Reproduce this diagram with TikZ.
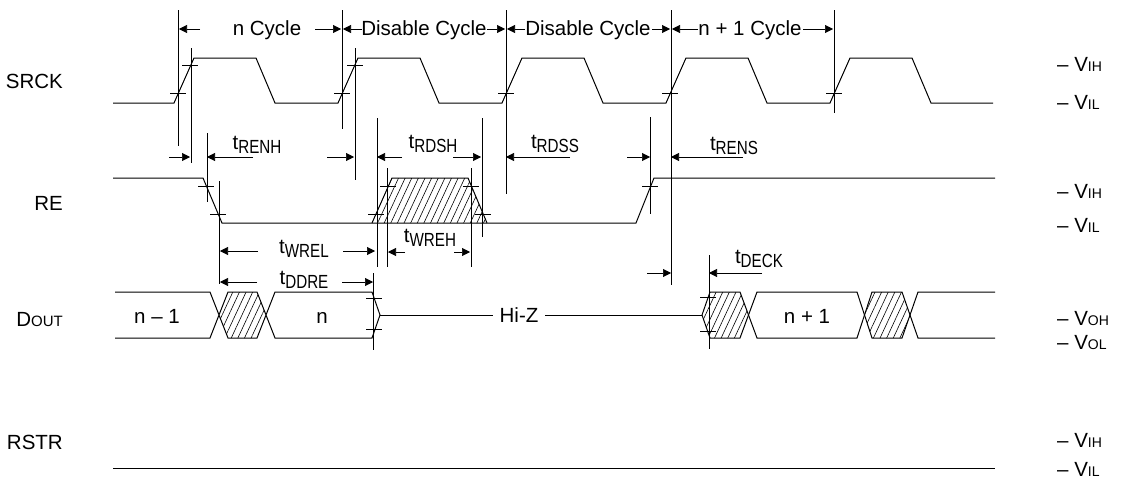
\documentclass[tikz,border=0pt]{standalone}
\usepackage{fontspec}
\setmainfont{Liberation Sans}
\newfontfamily\narrowfont[FakeStretch=0.8]{Liberation Sans}
\usetikzlibrary{arrows.meta,patterns.meta}
\newcommand{\tsub}[1]{t\raisebox{-4pt}{\narrowfont\fontsize{19}{19}\selectfont #1}}
\newcommand{\vsub}[1]{V{\fontsize{14}{14}\selectfont #1}}
\begin{document}
\begin{tikzpicture}[x=1pt,y=-1pt,
		sig/.style={line width=1pt},
		thin/.style={line width=0.6pt},
		dim/.style={line width=0.6pt,-{Triangle[length=8pt,width=8pt]}},
		hatch/.style={pattern={Lines[angle=65,distance=6pt,line width=0.6pt]}},
		lbl/.style={font=\fontsize{20.5}{21}\selectfont,inner sep=0pt}]
	\useasboundingbox (0,0) rectangle (1122,479);
	% signal names
	\node[lbl,anchor=base east] (srck) at (63,88){SRCK};
	\node[lbl,anchor=base east] (re) at (63,210){RE};
	\node[lbl,anchor=base east] (dout) at (63,326){D{\fontsize{15}{15}\selectfont OUT}};
	\node[lbl,anchor=base east] (rstr) at (63,449){RSTR};
	% levels
	\foreach\y/\t in {71/IH,109/IL,198/IH,232/IL,325/OH,349/OL,447/IH,476/IL}{
		\node[lbl,anchor=base west] (lv\y) at (1057,\y){-- \vsub{\t}};
	}
	% SRCK
	\draw[sig] (113,103) foreach\r in {174,338,502,666,830}{
		-- (\r,103) -- (\r+20,58) -- (\r+82,58) -- (\r+101,103)} -- (993,103);
	% RE
	\draw[sig] (113,178) -- (203,178) -- (222,223) -- (636,223) -- (654,178) -- (995,178);
	\draw[sig,hatch] (372,223) -- (392,178) -- (468,178) -- (487,223);
	% DOUT
	\fill[hatch] (219,315) -- (228,292) -- (257,292) -- (266,315) -- (257,338) -- (228,338) -- cycle;
	\fill[hatch] (702,315) -- (710,292) -- (740,292) -- (748.5,315) -- (740,338) -- (710,338) -- cycle;
	\fill[hatch] (864.5,315) -- (872,292) -- (902,292) -- (910,315) -- (902,338) -- (872,338) -- cycle;
	\draw[sig] (115,292) -- (210,292) -- (228,338) -- (257,338) -- (275,292) -- (372,292) -- (380,315)
		-- (372,338) -- (275,338) -- (257,292) -- (228,292) -- (210,338) -- (115,338);
	\draw[sig] (380,315) -- (493,315);
	\draw[sig] (545,315) -- (702,315);
	\draw[sig] (702,315) -- (710,292) -- (740,292) -- (757,338) -- (857,338) -- (872,292) -- (902,292) -- (918,338) -- (995,338);
	\draw[sig] (702,315) -- (710,338) -- (740,338) -- (757,292) -- (857,292) -- (872,338) -- (902,338) -- (918,292) -- (995,292);
	\node[lbl,anchor=base] (dn1) at (157,323){n -- 1};
	\node[lbl,anchor=base] (dn) at (322,323){n};
	\node[lbl,anchor=base] (hiz) at (519,322){Hi-Z};
	\node[lbl,anchor=base] (dn2) at (807,323){n + 1};
	% RSTR
	\draw[sig] (113,468) -- (995,468);
	% reference lines
	\foreach\x/\a/\b in {178/10/146,191/48/163,342/10/129,355/48/180,506/10/194,671/10/285,834/10/113,
		207/133/202,219/181/284,377/118/267,387/168/267,471/168/267,482/118/237,650/117/214,
		373/273/350,709/255/349}{
		\draw[thin] (\x,\a) -- (\x,\b);
	}
	% threshold ticks
	\foreach\x/\y in {178/93,190/65,342/93,355/65,506/93,670/93,834/93,
		206/186,218/214,376/214,388/186,471/186,483/214,650/186,
		374/298,374/329,708/297,708/331}{
		\draw[thin] (\x-8,\y) -- (\x+8,\y);
	}
	% cycles
	\foreach\a/\b in {200/179,315/341,362/343,487/505,525/507,652/670,698/672,803/833}{
		\draw[dim] (\a,29) -- (\b,29);
	}
	\node[lbl,anchor=base] (c1) at (267,35){n Cycle};
	\node[lbl,anchor=base] (c2) at (424,35){Disable Cycle};
	\node[lbl,anchor=base] (c3) at (588,35){Disable Cycle};
	\node[lbl,anchor=base] (c4) at (750,35){n + 1 Cycle};
	% timings
	\foreach\a/\b in {169/190,253/207,327/354,402/377,453/481,570/506,627/650,743/671}{
		\draw[dim] (\a,157) -- (\b,157);
	}
	\draw[dim] (258,251) -- (220,251);
	\draw[dim] (343,251) -- (375,251);
	\draw[dim] (405,252) -- (388,252);
	\draw[dim] (454,252) -- (470,252);
	\draw[dim] (257,282) -- (220,282);
	\draw[dim] (342,282) -- (373,282);
	\draw[dim] (647,273) -- (671,273);
	\draw[dim] (762,273) -- (709,273);
	\node[lbl,anchor=base] (trenh) at (257,149){\tsub{RENH}};
	\node[lbl,anchor=base] (trdsh) at (433,148){\tsub{RDSH}};
	\node[lbl,anchor=base] (trdss) at (555,148){\tsub{RDSS}};
	\node[lbl,anchor=base] (trens) at (734,150){\tsub{RENS}};
	\node[lbl,anchor=base] (twrel) at (304,253){\tsub{WREL}};
	\node[lbl,anchor=base] (twreh) at (430,242){\tsub{WREH}};
	\node[lbl,anchor=base] (tddre) at (304,284){\tsub{DDRE}};
	\node[lbl,anchor=base] (tdeck) at (759,263){\tsub{DECK}};
\end{tikzpicture}
\end{document}
